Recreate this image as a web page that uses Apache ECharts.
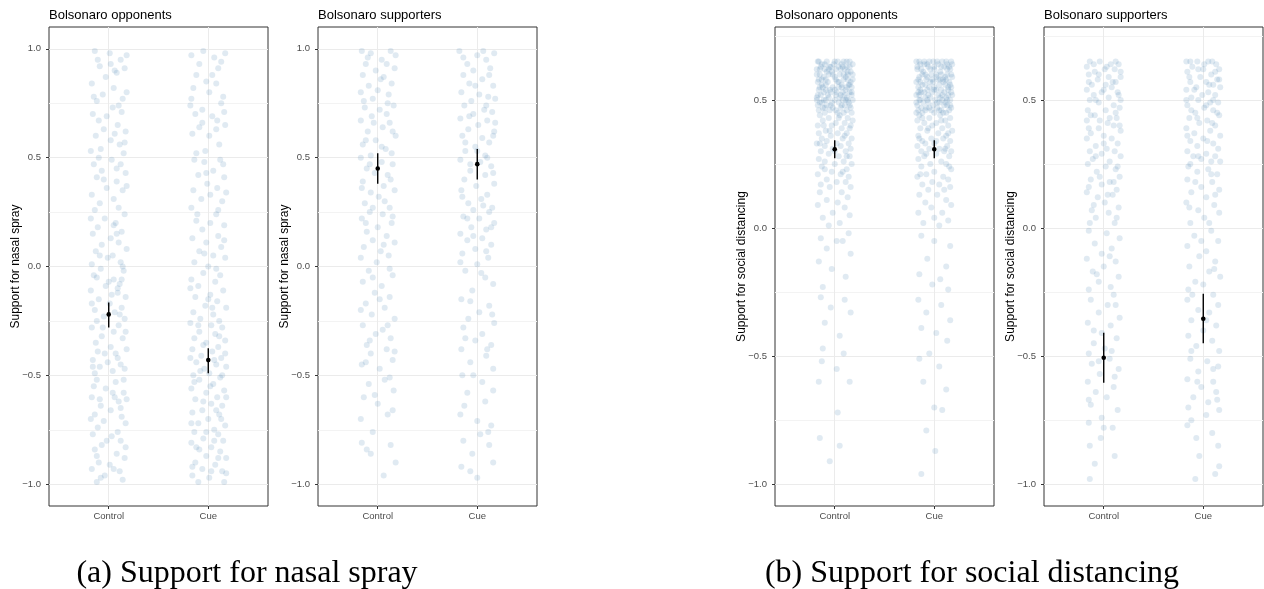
<!DOCTYPE html>
<html><head><meta charset="utf-8">
<script src="https://cdn.jsdelivr.net/npm/echarts@6/dist/echarts.min.js"></script>
<style>html,body{margin:0;padding:0;background:#fff}#c{width:1264px;height:589px}</style>
</head><body><div id="c"></div>
<script>
// ---------- labels ----------
const categories = ['Control', 'Cue'];
const panelTitles = ['Bolsonaro opponents', 'Bolsonaro supporters', 'Bolsonaro opponents', 'Bolsonaro supporters'];
const yTitles = ['Support for nasal spray', 'Support for nasal spray', 'Support for social distancing', 'Support for social distancing'];
const captions = ['(a) Support for nasal spray', '(b) Support for social distancing'];
const nasalTicks = [-1, -0.5, 0, 0.5, 1];
const nasalMinorTicks = [-0.75, -0.25, 0.25, 0.75];
const distTicks = [-1, -0.5, 0, 0.5];
const distMinorTicks = [-0.75, -0.25, 0.25, 0.75];

// ---------- raw responses: [horizontal jitter, value] ----------
const nasalOpponentsControl = [[-.14,.99],[.01,.98],[.12,.95],[-.09,.92],[.16,.91],[-.03,.87],[.08,.89],[-.17,.84],[.05,.82],[-.06,.79],[.14,.77],[-.12,.76],[.02,.93],[.18,.8],
[-.16,.7],[-.1,.67],[.04,.73],[.13,.71],[-.05,.63],[.09,.65],[.17,.62],[-.13,.6],[.02,.58],[.11,.56],[-.08,.54],[.15,.52],[-.18,.53],[.06,.61],
[-.15,.47],[.03,.49],[.12,.47],[-.07,.44],[.17,.43],[-.12,.41],[.08,.39],[-.02,.36],[.14,.35],[-.17,.33],[.05,.31],[-.09,.29],[.1,.27],[-.14,.26],
[.16,.24],[-.04,.22],[.07,.2],[-.11,.18],[.13,.16],[-.16,.15],[.02,.13],[.1,.11],[-.07,.1],[.18,.08],[-.13,.07],[.04,.05],[-.01,.04],[.12,.02],[-.17,.01],[.08,.15],
[-.08,-.01],[.15,-.02],[-.15,-.04],[.05,-.06],[.11,-.08],[-.03,-.09],[-.18,-.11],[.09,-.12],[.17,-.14],[-.1,-.15],[.01,-.17],[.13,-.19],[-.14,-.2],[.06,-.21],[-.05,-.23],[.16,-.24],[-.12,-.25],[.03,-.13],
[.1,-.27],[-.17,-.28],[.05,-.3],[-.07,-.32],[.14,-.33],[-.13,-.35],[.02,-.37],[.18,-.38],[-.04,-.4],[.09,-.42],[-.16,-.43],[.12,-.45],[-.09,-.46],[.04,-.48],[-.14,-.49],[.16,-.47],
[-.12,-.52],[.07,-.53],[-.03,-.56],[.15,-.58],[-.17,-.6],[.1,-.62],[-.08,-.64],[.02,-.66],[-.14,-.68],[.13,-.69],[-.05,-.71],[.17,-.72],[-.11,-.74],[.06,-.6],
[-.16,-.77],[.03,-.78],[.12,-.8],[-.07,-.82],[-.14,-.84],[.08,-.86],[.16,-.88],[-.1,-.9],[.01,-.91],[-.17,-.93],[.11,-.94],[-.04,-.96],[.14,-.98],[-.12,-.99],
[.18,.97],[-.11,.95],[.06,.9],[-.15,.78],[.1,.74],[-.02,.69],[.16,.57],[-.1,.5],[.08,.45],[-.05,.4],[.18,.37],[-.18,.22],[.05,.19],[-.09,.05],[.14,.0],[-.12,-.05],[.0,-.07],[.09,-.1],[-.17,-.17],[.11,-.22],
[-.06,-.28],[.17,-.3],[-.11,-.39],[.07,-.4],[-.01,-.44],[.15,-.52],[-.15,-.55],[.04,-.58],[-.09,-.61],[.12,-.65],[-.18,-.7],[.09,-.76],[-.02,-.8],[.17,-.83],[-.12,-.87],[.05,-.93],[-.08,-.97],[.18,-.61],[-.16,-.46],[.13,-.06]];

const nasalOpponentsCue = [[-.17,.97],[-.05,.99],[.06,.96],[.17,.98],[.1,.91],[-.12,.88],[-.02,.85],[.08,.84],[-.15,.82],[.15,.78],[.01,.8],
[-.18,.74],[-.06,.72],[.13,.75],[.04,.69],[-.13,.7],[.09,.67],[-.09,.64],[.17,.65],[-.16,.61],[.01,.6],[.11,.56],[-.03,.53],
[-.14,.49],[-.04,.48],[.12,.49],[.05,.44],[-.1,.42],[.16,.41],[-.01,.38],[.09,.36],[-.15,.35],[.02,.33],[-.07,.31],[.14,.3],[.18,.34],[-.17,.27],
[.08,.24],[-.12,.21],[.02,.2],[.16,.19],[-.06,.17],[.1,.14],[-.16,.13],[-.02,.11],[.13,.09],[-.09,.07],[.05,.05],[.17,.04],[-.14,.02],[.0,.0],
[-.05,-.03],[.12,-.04],[-.17,-.06],[.07,-.07],[-.1,-.09],[.15,-.11],[.02,-.13],[-.13,-.14],[.09,-.16],[-.03,-.18],[.18,-.19],[-.15,-.21],[.05,-.22],[-.08,-.24],[.11,-.25],[.0,-.15],
[-.18,-.26],[.03,-.27],[.14,-.28],[-.09,-.3],[.07,-.31],[-.14,-.33],[.17,-.34],[-.02,-.35],[.1,-.37],[-.16,-.38],[.04,-.39],[-.07,-.41],[.13,-.42],[-.12,-.44],[.08,-.45],[.18,-.46],[-.04,-.47],[.01,-.49],[-.15,-.5],
[.12,-.51],[-.09,-.52],[.05,-.54],[-.17,-.56],[.16,-.57],[-.02,-.58],[.09,-.6],[-.13,-.61],[.03,-.63],[.14,-.64],[-.06,-.66],[-.16,-.67],[.11,-.68],[.0,-.7],[-.1,-.72],[.17,-.73],[.06,-.75],
[-.14,-.76],[.1,-.77],[-.05,-.79],[.15,-.8],[-.17,-.81],[.03,-.83],[-.09,-.84],[.12,-.85],[-.02,-.87],[.18,-.88],[-.13,-.9],[.07,-.91],[-.06,-.93],[.14,-.94],[-.16,-.96],[.01,-.97],[.16,-.99],
[.13,.94],[-.09,.93],[.04,.88],[-.17,.77],[.16,.71],[-.06,.66],[.08,.63],[-.12,.52],[.15,.47],[-.02,.43],[.1,.26],[-.11,.24],[.16,.12],[-.04,.06],[.08,-.01],[-.18,-.1],[.04,-.19],[-.1,-.27],[.11,-.32],[-.05,-.36],
[.17,-.4],[-.18,-.42],[.06,-.43],[-.08,-.48],[.14,-.5],[-.14,-.53],[.02,-.55],[.18,-.6],[-.05,-.62],[.08,-.66],[-.17,-.72],[.13,-.7],[-.02,-.76],[.06,-.8],[-.12,-.83],[.1,-.88],[-.16,-.92],[.03,-.94],[.18,-.95],[-.1,-.99]];

const nasalSupportersControl = [[-.16,.99],[-.07,.98],[.13,.99],[.04,.95],[-.12,.93],[.09,.93],[.17,.91],[-.02,.9],[-.15,.88],[.06,.87],[.14,.84],[-.09,.83],[.0,.81],[-.17,.8],[.11,.79],[-.05,.77],
[.16,.74],[-.13,.73],[.02,.72],[.09,.7],[-.06,.69],[-.17,.67],[.12,.66],[.05,.64],[-.1,.62],[.18,.6],[-.02,.58],[-.15,.56],[.08,.54],[.14,.52],[-.07,.51],
[-.17,.5],[.04,.48],[.15,.47],[-.11,.45],[-.03,.43],[.1,.42],[-.15,.39],[.06,.37],[.17,.35],[-.07,.34],[.01,.32],[-.13,.29],[.12,.27],
[-.08,.25],[.05,.24],[-.16,.22],[.14,.2],[.0,.18],[-.11,.16],[.09,.14],[-.05,.12],[.17,.11],[-.14,.09],[.03,.07],[.11,.05],[-.01,.02],
[-.09,-.02],[.15,-.04],[-.15,-.07],[.04,-.09],[-.03,-.12],[.12,-.14],[-.12,-.17],[.07,-.19],[-.06,-.22],[.17,-.24],
[-.15,-.27],[.05,-.29],[-.02,-.31],[.13,-.33],[-.11,-.36],[.09,-.38],[-.07,-.4],[.15,-.43],[-.16,-.45],[.02,-.47],
[.12,-.51],[-.09,-.54],[.16,-.57],[-.14,-.6],[.0,-.63],[.1,-.68],[-.17,-.7],
[-.05,-.76],[-.16,-.81],[.13,-.82],[-.07,-.86],[.18,-.9],[.06,-.96],
[.18,.97],[-.1,.96],[.03,.86],[-.14,.76],[.1,.75],[-.04,.66],[.15,.62],[-.12,.58],[.04,.55],[-.08,.47],[.13,.4],[-.16,.36],[.07,.3],[-.05,.27],[.15,.23],
[-.12,.2],[.06,.1],[-.17,.04],[.12,-.01],[-.05,-.05],[.02,-.15],[-.17,-.2],[.1,-.27],[-.08,-.34],[.17,-.39],[-.12,-.44],[.07,-.52],[-.03,-.59],[.15,-.66],[-.11,-.84]];

const nasalSupportersCue = [[-.18,.99],[-.1,.93],[.0,.97],[.17,.98],[.09,.95],[-.04,.9],[.13,.91],[-.14,.88],[.05,.86],[-.08,.84],[.16,.83],[-.16,.8],[.02,.79],[.11,.78],[-.06,.76],[.18,.77],
[-.13,.74],[.07,.72],[.15,.71],[-.04,.7],[-.17,.68],[.1,.67],[.01,.65],[-.09,.63],[.17,.62],[-.15,.6],[.05,.59],[.12,.57],[-.02,.55],[-.12,.53],[.08,.51],[.16,.6],
[-.17,.49],[.03,.48],[.14,.46],[-.07,.44],[.08,.42],[-.13,.4],[.17,.38],[-.01,.37],[-.16,.35],[.1,.33],[.04,.31],[-.09,.29],[.15,.27],[-.04,.26],
[.12,.25],[-.14,.23],[.02,.22],[.17,.2],[-.06,.18],[.09,.17],[-.17,.15],[.05,.13],[-.1,.12],[.14,.1],[-.02,.08],[-.15,.06],[.11,.04],[.0,.01],
[-.12,-.02],[.08,-.05],[.16,-.08],[-.05,-.11],[-.16,-.15],[.12,-.18],[.02,-.21],[-.09,-.24],
[.17,-.26],[-.14,-.28],[.05,-.31],[-.02,-.34],[.14,-.36],[-.16,-.38],[.09,-.41],[-.07,-.44],[.16,-.47],
[-.15,-.5],[.05,-.53],[-.1,-.58],[.08,-.62],[-.17,-.68],[.14,-.73],
[.03,-.77],[-.14,-.8],[.12,-.82],[-.05,-.86],[.16,-.9],[-.07,-.94],[.0,-.97],
[.06,.99],[-.14,.96],[.12,.88],[-.02,.83],[.09,.74],[-.08,.69],[.18,.66],[-.12,.57],[.0,.53],[.1,.5],[-.07,.47],[.16,.43],[-.15,.32],[.06,.28],[-.1,.22],
[.14,.18],[-.04,.14],[.09,.07],[-.17,.02],[.04,-.03],[-.07,-.16],[.15,-.22],[-.12,-.33],[.1,-.38],[-.04,-.5],[.16,-.57],[-.13,-.64],[.0,-.71],[.11,-.76],[-.16,-.92]];

const distOpponentsControl = [[-.17,.65],[-.08,.65],[.03,.65],[.12,.65],[.18,.64],[-.13,.64],[.07,.64],
[-.04,.63],[.15,.63],[-.18,.62],[-.1,.62],[.01,.62],[.1,.62],[.16,.61],
[-.15,.6],[-.06,.6],[.05,.6],[.13,.6],[-.11,.59],[.0,.59],[.09,.58],[.18,.58],
[-.17,.57],[-.07,.57],[.03,.57],[.14,.56],[-.13,.56],[-.02,.55],[.07,.55],[.17,.55],
[-.16,.54],[-.09,.54],[.11,.54],[.02,.53],[-.04,.53],[.15,.53],[-.14,.52],[.06,.52],
[-.18,.51],[-.06,.51],[.12,.51],[.18,.5],[-.11,.5],[.0,.5],[.08,.5],[-.15,.49],[.04,.49],[.14,.49],
[-.08,.48],[-.17,.48],[.1,.48],[-.02,.47],[.06,.47],[.16,.47],[-.12,.47],[-.05,.46],[.12,.46],[.01,.46],[-.16,.46],[.09,.45],[-.1,.45],[.17,.45],[.03,.45],
[-.14,.63],[.08,.63],[-.01,.64],[.13,.58],[-.09,.58],[.04,.57],[-.03,.61],[.11,.59],[-.16,.58],[.17,.52],[-.07,.52],[.1,.52],[.0,.54],[-.12,.55],[.05,.51],[-.03,.49],[.13,.5],[-.18,.5],[.07,.56],[-.06,.62],[.15,.56],[-.11,.53],
[-.15,.44],[.05,.44],[.13,.43],[-.06,.43],[.18,.42],[-.12,.42],[.01,.41],[.1,.41],[-.17,.4],[-.03,.4],[.15,.39],[.07,.39],[-.09,.38],[-.16,.37],[.03,.37],[.12,.37],[-.04,.36],[.17,.35],[-.13,.35],[.08,.35],[-.08,.34],[.02,.33],[.14,.33],[-.18,.33],[-.1,.32],[.06,.32],[.16,.31],[-.02,.31],[-.14,.3],[.11,.3],
[-.06,.29],[.04,.28],[.15,.28],[-.16,.27],[.09,.26],[-.1,.26],[.17,.25],[.0,.25],[-.13,.24],[.12,.23],[-.03,.22],[.06,.21],[-.17,.21],[.14,.2],[-.08,.19],[.02,.18],[.11,.18],[-.14,.17],[.16,.16],[-.05,.16],
[-.15,.14],[.07,.14],[.13,.12],[-.08,.11],[.03,.1],[-.17,.09],[.1,.08],[-.02,.06],[.15,.05],[-.12,.04],[.05,.02],[-.06,.01],
[.14,-.02],[-.14,-.04],[.02,-.05],[.08,-.05],[-.08,-.08],[.16,-.1],[-.16,-.13],[-.03,-.16],[.11,-.19],[-.12,-.23],
[-.14,-.27],[.1,-.28],[-.04,-.31],[.16,-.33],[-.1,-.37],[.05,-.42],[-.12,-.47],[.09,-.49],
[-.13,-.52],[.02,-.55],[-.16,-.6],[.15,-.6],[.03,-.72],
[-.15,-.82],[.05,-.85],[-.05,-.91],
[-.16,.65],[.0,.65],[.09,.65],[.15,.65],[-.1,.64],[-.05,.63],[.04,.63],[.12,.63],[-.15,.62],[.06,.62],[-.08,.61],[.13,.61],[.18,.6],[-.18,.6],[-.02,.6],[.09,.6],[-.13,.58],[.01,.58],
[.16,.57],[-.09,.56],[.04,.55],[.12,.55],[-.15,.55],[-.05,.54],[.08,.53],[.17,.53],[-.17,.52],[.01,.52],[-.09,.5],[.11,.5],[-.13,.49],[.07,.48],[-.04,.48],[.15,.48],[-.1,.47],
[.04,.43],[-.11,.4],[.16,.4],[-.05,.38],[.1,.36],[-.15,.33],[.0,.3],[.12,.28],[-.1,.23],[.08,.22]];

const distOpponentsCue = [[-.18,.65],[-.1,.65],[-.01,.65],[.08,.65],[.17,.65],[-.14,.64],[.04,.64],[.13,.64],
[-.06,.63],[.1,.63],[-.17,.62],[.0,.62],[.16,.62],[-.11,.61],[.06,.61],[-.03,.6],
[.13,.6],[-.15,.59],[.02,.59],[.18,.59],[-.08,.58],[.09,.58],[-.18,.57],[.15,.57],
[-.04,.57],[.05,.56],[-.12,.56],[.11,.56],[.0,.55],[-.16,.55],[.17,.55],[-.07,.54],
[.07,.54],[.14,.54],[-.13,.53],[-.02,.53],[.1,.53],[-.18,.52],[.04,.52],[.18,.52],
[-.09,.51],[.12,.51],[-.04,.51],[-.15,.5],[.01,.5],[.08,.5],[.16,.5],[-.11,.49],
[.05,.49],[-.06,.49],[.13,.48],[-.17,.48],[-.01,.48],[.1,.48],[-.13,.47],[.17,.47],
[.03,.47],[-.08,.47],[.15,.46],[-.16,.46],[.07,.46],[-.03,.46],[.12,.45],[-.12,.45],
[.0,.45],[-.18,.45],[.09,.45],
[-.07,.64],[.15,.63],[-.13,.62],[.07,.6],[-.09,.6],[.12,.58],[-.02,.58],[-.14,.57],
[.06,.58],[.16,.56],[-.05,.55],[.02,.54],[-.16,.53],[.14,.52],[-.1,.53],[.06,.51],[-.14,.5],[.11,.49],[-.05,.47],
[-.15,.44],[.06,.44],[.16,.43],[-.05,.43],[.11,.42],[-.17,.42],[.02,.41],[-.1,.41],[.14,.4],[-.02,.4],[.08,.39],[-.14,.39],[.18,.38],[-.07,.38],[.04,.37],[-.16,.36],[.12,.36],[-.03,.35],[.09,.35],[-.12,.34],[.16,.34],[.0,.33],[-.09,.33],[.13,.32],[-.17,.32],[.05,.31],[-.05,.31],[.1,.3],[-.13,.3],[.17,.3],
[.02,.29],[-.1,.28],[.15,.28],[-.16,.27],[.07,.26],[-.04,.25],[.12,.25],[-.13,.24],[.17,.23],[.0,.22],[-.08,.21],[.09,.2],[-.17,.2],[.14,.19],[-.02,.18],[-.12,.17],[.05,.17],[.16,.16],[-.06,.15],[.1,.15],
[-.15,.13],[.03,.13],[.12,.11],[-.09,.1],[.17,.09],[-.03,.08],[-.16,.06],[.08,.06],[.0,.04],[.14,.03],[-.11,.02],[.05,.01],
[-.13,-.03],[.0,-.05],[.16,-.07],[-.07,-.12],[.12,-.15],[-.15,-.18],[.06,-.2],[-.02,-.22],[.14,-.24],
[-.16,-.28],[.07,-.3],[-.08,-.33],[.16,-.36],[-.13,-.39],[.02,-.41],[.13,-.44],[-.05,-.49],
[-.15,-.51],[.05,-.54],[-.11,-.6],[.12,-.63],[.0,-.7],[.08,-.71],
[-.08,-.79],[.01,-.87],[-.13,-.96],
[-.15,.65],[-.05,.65],[.03,.65],[.12,.65],[.18,.64],[-.1,.64],[.0,.63],[.07,.63],[-.17,.63],[.13,.62],[-.04,.62],[-.12,.6],[.02,.6],[.17,.6],[-.07,.59],[.11,.59],[-.16,.58],[.04,.58],
[-.01,.57],[.09,.57],[-.09,.56],[.14,.55],[-.14,.54],[.0,.54],[.17,.53],[-.06,.52],[.08,.52],[-.15,.52],[.13,.5],[-.07,.5],[.03,.49],[-.18,.49],[.16,.48],[-.09,.46],[.05,.46],
[-.12,.43],[.07,.42],[-.06,.39],[.14,.37],[-.15,.35],[.02,.34],[.11,.31],[-.08,.29],[.15,.24],[-.14,.21]];

const distSupportersControl = [[-.14,.65],[-.04,.65],[.07,.64],[.15,.64],[-.17,.63],[.01,.62],[.11,.62],[-.09,.61],[-.15,.6],[.05,.59],[.17,.59],[-.06,.58],[.12,.57],[-.12,.56],[.02,.56],[.08,.55],[-.17,.54],[-.02,.53],[.14,.53],[-.1,.52],[.05,.51],[.17,.5],[-.14,.5],[-.05,.49],[.1,.48],[.16,.47],[-.16,.46],[.02,.46],
[-.09,.44],[.13,.43],[-.17,.42],[.04,.41],[.1,.4],[-.05,.39],[.17,.38],[-.13,.37],[.0,.36],[-.17,.35],[.08,.35],[.14,.33],[-.08,.32],[.03,.31],[-.14,.3],[.11,.3],[-.02,.29],[.17,.28],[-.11,.27],[.06,.26],
[-.16,.25],[.02,.24],[.12,.23],[-.07,.22],[.16,.2],[-.13,.19],[.06,.18],[-.02,.17],[.13,.15],[-.17,.14],[.09,.13],[-.06,.12],[.01,.1],[.15,.08],[-.12,.07],[.05,.06],[-.08,.04],[.11,.02],
[-.15,-.01],[.03,-.02],[.16,-.04],[-.09,-.06],[.08,-.08],[-.02,-.1],[-.17,-.12],[.12,-.13],[.0,-.15],[-.11,-.17],[.15,-.19],[-.05,-.21],[.07,-.23],[-.15,-.24],
[.1,-.26],[-.13,-.28],[.04,-.3],[-.05,-.33],[.16,-.35],[-.16,-.37],[.07,-.38],[-.02,-.41],[.13,-.43],[-.1,-.45],[.01,-.47],[-.15,-.49],
[.06,-.51],[-.12,-.53],[.15,-.55],[-.04,-.57],[-.16,-.6],[.1,-.62],[-.08,-.64],[.03,-.66],[-.13,-.69],[.14,-.71],[-.02,-.74],
[-.15,-.76],[.09,-.78],[-.03,-.82],[-.14,-.85],[.11,-.89],[-.09,-.92],[-.14,-.98],
[.12,.65],[-.1,.64],[.03,.63],[.17,.61],[-.05,.6],[-.15,.57],[.09,.57],[.0,.54],[.15,.52],[-.08,.5],[.12,.45],[-.13,.44],[.06,.43],[-.04,.42],[.16,.4],[-.15,.39],[.0,.33],[-.08,.28],
[.14,.24],[-.04,.2],[.1,.18],[-.15,.16],[.04,.13],[-.1,.09],[.13,.04],[-.14,.02],[.06,-.11],[-.07,-.18],[.12,-.3],[-.1,-.4],[.08,-.48],[-.05,-.52],[.11,-.58],[-.15,-.67],[.0,-.78]];

const distSupportersCue = [[-.17,.65],[-.06,.65],[.05,.65],[.13,.64],[-.11,.63],[.0,.62],[.16,.62],[-.16,.61],[.08,.6],[-.03,.59],[.14,.58],[-.13,.57],[.03,.57],[.1,.56],[-.07,.55],[.17,.55],[-.17,.54],[.05,.53],[-.01,.52],[.12,.52],[-.12,.51],[-.05,.5],[.15,.49],[.07,.49],[-.16,.48],[.01,.47],[.1,.46],[-.08,.45],
[.16,.44],[-.14,.43],[.04,.42],[-.04,.41],[.12,.4],[-.17,.39],[.07,.38],[-.09,.37],[.17,.36],[.0,.35],[-.13,.34],[.1,.33],[-.06,.32],[.15,.31],[-.16,.3],[.03,.29],[.12,.28],[-.1,.28],[-.02,.27],[.08,.26],
[-.15,.24],[.05,.23],[-.06,.22],[.14,.21],[-.16,.19],[.09,.18],[-.02,.16],[.16,.15],[-.12,.14],[.03,.12],[-.17,.1],[.11,.09],[-.05,.07],[.16,.06],[.01,.04],[-.13,.02],
[.08,-.01],[-.09,-.03],[.15,-.05],[-.16,-.07],[.03,-.09],[-.04,-.11],[.12,-.13],[-.14,-.15],[.06,-.17],[.17,-.19],[-.08,-.21],[.0,-.22],[-.15,-.24],
[.1,-.26],[-.16,-.28],[.15,-.3],[-.05,-.32],[.06,-.33],[-.12,-.36],[.13,-.38],[.0,-.4],[-.15,-.42],[.09,-.44],[-.07,-.46],[.16,-.48],
[-.13,-.51],[.04,-.52],[.15,-.54],[-.05,-.56],[-.16,-.59],[.1,-.6],[-.02,-.62],[.13,-.64],[-.1,-.66],[.05,-.68],[-.15,-.7],[.16,-.71],[.03,-.73],
[-.16,-.77],[.09,-.8],[-.07,-.82],[.15,-.85],[-.04,-.89],[.16,-.93],[.12,-.96],[-.08,-.98],
[-.13,.65],[.09,.65],[.01,.64],[-.05,.62],[.12,.61],[-.14,.59],[.16,.58],[.06,.56],[-.09,.54],[-.17,.5],[.1,.5],[.03,.48],[-.12,.46],[.14,.45],[-.06,.43],[.09,.41],[-.16,.36],[.04,.34],
[-.05,.28],[.17,.26],[-.13,.25],[.08,.21],[-.08,.18],[.12,.13],[-.14,.08],[.06,.02],[-.02,-.05],[.11,-.16],[-.11,-.26],[.03,-.36],[-.12,-.48],[.1,-.55],[-.06,-.6],[.14,-.67],[-.12,-.75]];

// ---------- model estimates (Control, Cue) ----------
const nasalOpponentsEst = [-0.22, -0.43];
const nasalOpponentsLow = [-0.28, -0.49];
const nasalOpponentsHigh = [-0.165, -0.375];
const nasalSupportersEst = [0.45, 0.47];
const nasalSupportersLow = [0.38, 0.40];
const nasalSupportersHigh = [0.52, 0.54];
const distOpponentsEst = [0.308, 0.308];
const distOpponentsLow = [0.273, 0.273];
const distOpponentsHigh = [0.343, 0.343];
const distSupportersEst = [-0.506, -0.354];
const distSupportersLow = [-0.604, -0.450];
const distSupportersHigh = [-0.409, -0.256];

// ---------- assembly ----------
const panels = [
  {raw: [nasalOpponentsControl, nasalOpponentsCue], est: nasalOpponentsEst, lo: nasalOpponentsLow, hi: nasalOpponentsHigh, ticks: nasalTicks, minor: nasalMinorTicks, range: [-1.1, 1.1]},
  {raw: [nasalSupportersControl, nasalSupportersCue], est: nasalSupportersEst, lo: nasalSupportersLow, hi: nasalSupportersHigh, ticks: nasalTicks, minor: nasalMinorTicks, range: [-1.1, 1.1]},
  {raw: [distOpponentsControl, distOpponentsCue], est: distOpponentsEst, lo: distOpponentsLow, hi: distOpponentsHigh, ticks: distTicks, minor: distMinorTicks, range: [-1.085, 0.785]},
  {raw: [distSupportersControl, distSupportersCue], est: distSupportersEst, lo: distSupportersLow, hi: distSupportersHigh, ticks: distTicks, minor: distMinorTicks, range: [-1.085, 0.785]}
];
const layout = {lefts: [49, 318, 775, 1044], top: 27, width: 219, height: 479};
const SANS = '"Liberation Sans", Arial, sans-serif';
const catPos = categories.map((c, i) => i + 1);

const fmtNum = v => {
  const s = Math.abs(v).toFixed(1);
  return v < 0 ? '\u2212' + s : s;
};

const grid = [], xAxis = [], yAxis = [], series = [], graphic = [];
panels.forEach((p, i) => {
  grid.push({left: layout.lefts[i], top: layout.top, width: layout.width, height: layout.height,
    show: true, borderColor: '#333333', borderWidth: 1, backgroundColor: 'transparent', containLabel: false});
  xAxis.push({type: 'value', gridIndex: i, min: 0.4, max: 2.6, position: 'bottom',
    axisLine: {show: false, onZero: false},
    axisTick: {show: true, customValues: catPos, length: 3, lineStyle: {color: '#333333'}},
    axisLabel: {customValues: catPos, formatter: v => categories[Math.round(v) - 1] || '', fontFamily: SANS, fontSize: 9.5, color: '#4d4d4d', margin: 5},
    splitLine: {show: true, lineStyle: {color: '#ebebeb', width: 1}}
  });
  yAxis.push({type: 'value', gridIndex: i, min: p.range[0], max: p.range[1], position: 'left',
    name: yTitles[i], nameLocation: 'middle', nameRotate: 90, nameGap: 27, nameMoveOverlap: false,
    nameTextStyle: {fontFamily: SANS, fontSize: 12, color: '#000'},
    axisLine: {show: false, onZero: false},
    axisTick: {show: true, customValues: p.ticks, length: 3, lineStyle: {color: '#333333'}},
    axisLabel: {customValues: p.ticks, formatter: fmtNum, fontFamily: SANS, fontSize: 9.5, color: '#4d4d4d', margin: 8},
    splitLine: {show: true, lineStyle: {color: '#ebebeb', width: 1}}
  });
  yAxis.push({type: 'value', gridIndex: i, min: p.range[0], max: p.range[1], position: 'left',
    axisLine: {show: false, onZero: false},
    axisTick: {show: false, customValues: p.minor},
    axisLabel: {show: false, customValues: p.minor},
    splitLine: {show: true, lineStyle: {color: '#f3f3f3', width: 1}}
  });
  const pts = [];
  p.raw.forEach((arr, g) => arr.forEach(d => pts.push([catPos[g] + d[0], d[1]])));
  series.push({type: 'scatter', xAxisIndex: i, yAxisIndex: 2 * i, data: pts, symbolSize: 6, silent: true,
    itemStyle: {color: 'rgba(70,130,180,0.21)', borderWidth: 0}, z: 2});
  const est = categories.map((c, g) => [catPos[g], p.est[g], p.lo[g], p.hi[g]]);
  series.push({type: 'custom', xAxisIndex: i, yAxisIndex: 2 * i, data: est, silent: true, z: 5,
    encode: {x: 0, y: 1},
    renderItem: (params, api) => {
      const x = api.value(0);
      const c = api.coord([x, api.value(1)]);
      const a = api.coord([x, api.value(2)]);
      const b = api.coord([x, api.value(3)]);
      return {type: 'group', children: [
        {type: 'line', shape: {x1: a[0], y1: a[1], x2: b[0], y2: b[1]}, style: {stroke: '#000', lineWidth: 1.4}},
        {type: 'circle', shape: {cx: c[0], cy: c[1], r: 2.3}, style: {fill: '#000'}}
      ]};
    }
  });
  graphic.push({type: 'text', left: layout.lefts[i], top: 9,
    style: {text: panelTitles[i], font: '13px ' + SANS, fill: '#000'}});
});
const capCenters = [247, 972];
captions.forEach((t, k) => {
  graphic.push({type: 'text', x: capCenters[k], y: 574,
    style: {text: t, font: '32px "Liberation Serif", "Times New Roman", serif', fill: '#000',
      align: 'center', verticalAlign: 'middle', textAlign: 'center', textVerticalAlign: 'middle'}});
});

const chart = echarts.init(document.getElementById('c'), null, {renderer: 'canvas'});
chart.setOption({animation: false, backgroundColor: '#ffffff', grid, xAxis, yAxis, series, graphic});
</script></body></html>
